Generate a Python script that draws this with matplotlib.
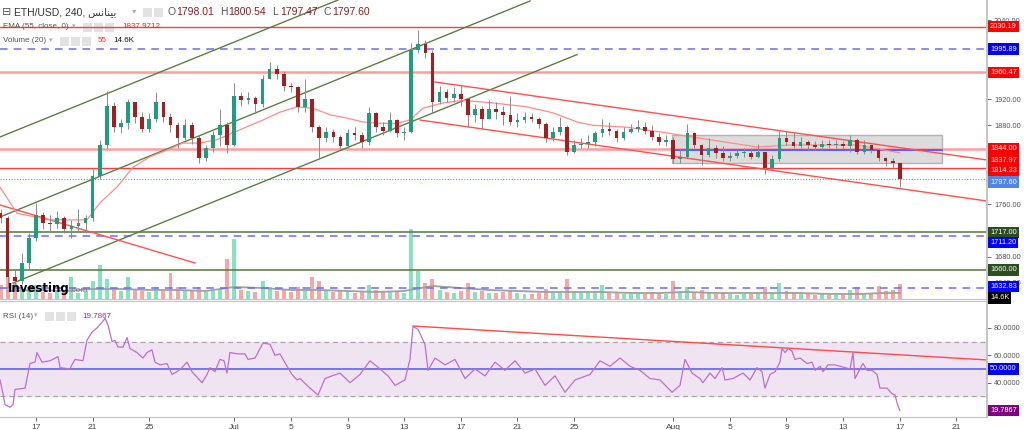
import numpy as np
import matplotlib.pyplot as plt
from matplotlib.patches import Rectangle
from matplotlib.transforms import offset_copy

plt.rcParams['font.family'] = ['Liberation Sans', 'DejaVu Sans']

# x axis: days since 1 Jun 2023, one candle every 12 hours from 14 Jun 12:00
first_day = 13.5
first_open = 1746.0
closes = [1739, 1649, 1643, 1670, 1709, 1744, 1732, 1729, 1739, 1722, 1726, 1732, 1739, 1803,
          1850, 1910, 1878, 1883, 1915, 1893, 1875, 1890, 1915, 1892, 1880, 1860, 1880, 1860, 1830, 1845,
          1865, 1880, 1850, 1925,
          1918, 1922, 1912, 1950, 1965, 1958, 1940, 1938, 1908, 1920, 1878, 1860, 1870, 1862, 1848, 1868,
          1865, 1855, 1898, 1878, 1872, 1888, 1868, 1870,
          1995, 2003, 1990, 1915, 1930, 1922, 1928, 1920, 1895, 1905, 1890, 1905, 1900, 1895, 1885, 1888,
          1892, 1890, 1882, 1860, 1870, 1878, 1840, 1850, 1852, 1855, 1868, 1875, 1872, 1860, 1870, 1875,
          1878, 1872, 1862, 1855, 1858, 1828, 1832, 1868, 1850, 1835, 1845, 1838, 1830, 1833, 1838, 1838,
          1832, 1840, 1815, 1828, 1860, 1855, 1848, 1855, 1850, 1847, 1852, 1850, 1852, 1848, 1858, 1840,
          1850, 1842, 1830, 1825, 1822, 1797.6]
highs = [1752, 1742, 1660, 1685, 1716, 1762, 1748, 1744, 1749, 1742, 1736, 1752, 1744, 1813,
         1858, 1932, 1915, 1890, 1920, 1915, 1900, 1898, 1930, 1915, 1898, 1885, 1890, 1885, 1865, 1850,
         1872, 1905, 1885, 1945,
         1930, 1930, 1925, 1956, 1976, 1972, 1962, 1945, 1940, 1950, 1920, 1880, 1878, 1875, 1865, 1875,
         1878, 1870, 1908, 1900, 1885, 1900, 1890, 1878,
         2005, 2025, 2010, 1995, 1940, 1935, 1938, 1940, 1922, 1912, 1910, 1918, 1915, 1910, 1925, 1898,
         1900, 1898, 1892, 1885, 1878, 1892, 1880, 1858, 1860, 1865, 1872, 1890, 1885, 1875, 1878, 1882,
         1888, 1885, 1880, 1868, 1865, 1862, 1845, 1882, 1870, 1852, 1860, 1850, 1848, 1840, 1842, 1845,
         1845, 1852, 1840, 1835, 1872, 1872, 1870, 1862, 1858, 1856, 1858, 1857, 1858, 1856, 1865, 1860,
         1858, 1850, 1845, 1832, 1830, 1822]
lows = [1732, 1633, 1630, 1638, 1660, 1704, 1722, 1718, 1724, 1716, 1709, 1719, 1716, 1734,
        1798, 1845, 1870, 1868, 1875, 1883, 1870, 1870, 1885, 1885, 1870, 1845, 1858, 1852, 1822, 1825,
        1840, 1848, 1838, 1848,
        1910, 1912, 1898, 1908, 1950, 1950, 1932, 1930, 1900, 1900, 1870, 1828, 1855, 1855, 1843, 1845,
        1858, 1845, 1850, 1870, 1865, 1870, 1862, 1858,
        1868, 1990, 1982, 1898, 1912, 1915, 1915, 1910, 1878, 1885, 1875, 1890, 1890, 1880, 1880, 1878,
        1884, 1885, 1876, 1855, 1856, 1865, 1835, 1838, 1845, 1845, 1848, 1862, 1865, 1855, 1858, 1868,
        1870, 1866, 1858, 1850, 1848, 1822, 1822, 1830, 1845, 1820, 1832, 1830, 1826, 1826, 1830, 1832,
        1828, 1830, 1806, 1812, 1825, 1850, 1845, 1846, 1843, 1842, 1843, 1845, 1846, 1844, 1840, 1836,
        1837, 1838, 1826, 1818, 1815, 1786]
volumes = [14, 22, 16, 10, 12, 14, 7, 6, 8, 7, 22, 6, 8, 18,
           34, 20, 10, 8, 22, 9, 8, 7, 12, 8, 26, 12, 9, 8, 12, 7, 8, 10, 40, 60,
           9, 8, 7, 18, 12, 8, 9, 7, 12, 10, 22, 18, 8, 7, 9, 8, 6, 7, 14, 9, 7, 8, 7, 6,
           70, 28, 16, 20, 9, 7, 6, 8, 16, 7, 8, 6, 6, 7, 9, 6, 5, 5, 6, 10, 6, 7, 20, 8, 6, 6,
           7, 14, 6, 7, 5, 5, 6, 5, 7, 6, 5, 18, 8, 12, 7, 9, 7, 5, 6, 5, 4, 5, 5, 6, 12, 7,
           16, 8, 7, 5, 5, 4, 5, 4, 4, 5, 9, 12, 6, 5, 13, 8, 9, 14.6]

ema_days = [13.46, 14.66, 16.99, 19.60, 20.52, 21.72, 22.85, 24.05, 25.25, 26.38, 27.58, 28.78,
            30.06, 32.03, 33.23, 34.43, 35.56, 36.76, 37.97, 39.10, 40.30, 41.50, 42.41, 43.33,
            44.74, 46.16, 48.28, 50.68, 52.51, 54.21, 55.34, 57.74, 60.07, 62.40, 64.52, 66.92,
            69.25, 71.58, 73.98, 77.0]
ema_vals = [1786, 1746, 1736, 1736, 1762, 1786, 1816, 1832, 1842, 1853, 1853, 1858,
            1870, 1888, 1900, 1908, 1906, 1896, 1891, 1885, 1883, 1883, 1888, 1906,
            1914, 1918, 1914, 1908, 1899, 1885, 1880, 1877, 1870, 1862, 1855, 1847,
            1850, 1850, 1850, 1837.97]

volma_days = [14, 16, 18, 20, 22, 24, 26, 28, 30, 32, 34, 36, 38, 40, 42, 44, 46, 48, 50, 52,
              54, 56, 58, 60, 62, 64, 66, 68, 70, 72, 74, 76, 77]
volma_vals = [8, 9, 8, 10, 10, 9, 9, 8, 12, 11, 9, 9, 8, 7, 8, 13, 11, 9, 8, 7,
              7, 7, 6, 6, 7, 6, 6, 6, 6, 5, 5, 6, 6]

rsi_days = [13.46, 13.67, 13.81, 14.17, 14.38, 14.52, 15.23, 15.58, 15.93, 16.07, 16.43, 16.99,
            17.56, 17.70, 18.40, 18.54, 18.76, 19.32, 19.60, 19.96, 20.31, 20.66, 20.88, 21.09,
            21.37, 21.58, 21.79, 22.15, 22.43, 22.64, 23.13, 23.56, 23.84, 24.19, 24.41, 24.76,
            25.25, 25.61, 25.96, 26.31, 26.67, 27.02, 27.37, 27.73, 28.08, 28.29, 28.64, 28.99,
            29.28, 29.49, 29.70, 30.27, 30.76, 30.97, 31.47, 32.03, 32.53, 32.88, 33.23, 33.73,
            34.08, 34.43, 34.65, 35.35, 35.92, 36.41, 36.91, 37.47, 38.18, 38.88, 39.59, 40.30,
            40.86, 41.36, 42.06, 42.41, 42.63, 42.98, 43.47, 43.69, 44.18, 44.89, 45.59, 46.30,
            47.00, 47.71, 48.42, 49.12, 49.83, 50.54, 51.24, 51.95, 52.65, 53.36, 54.07, 55.13,
            55.83, 56.54, 57.24, 57.95, 58.66, 59.36, 60.07, 60.92, 61.48, 61.83, 62.33, 62.89,
            63.10, 63.60, 63.95, 64.45, 64.66, 65.22, 65.93, 66.43, 66.92, 67.27, 67.48, 67.84,
            68.19, 68.54, 68.68, 68.90, 69.11, 69.39, 69.60, 69.96, 70.45, 70.80, 71.02, 71.37,
            71.58, 71.93, 72.43, 72.78, 73.13, 73.49, 73.70, 73.84, 74.19, 74.40, 74.69, 75.04,
            75.39, 75.60, 76.10, 76.45, 76.67, 76.81, 77.0]
rsi_vals = [42, 32, 24, 22, 24, 35, 36, 54, 55, 62, 55, 56,
            59, 51, 50, 53, 57, 56, 71, 77, 80, 84, 87, 82,
            70, 71, 66, 66, 73, 65, 62, 58, 62, 64, 55, 53,
            54, 46, 48, 51, 55, 48, 44, 40, 46, 51, 48, 57,
            56, 47, 62, 61, 61, 57, 58, 69, 68, 60, 61, 52,
            46, 42, 43, 36, 31, 43, 45, 47, 40, 46, 56, 50,
            45, 38, 42, 57, 81, 79, 68, 49, 58, 53, 57, 43,
            50, 45, 55, 49, 56, 47, 50, 38, 45, 33, 42, 46,
            56, 52, 58, 52, 49, 43, 42, 33, 38, 57, 47, 43,
            40, 47, 43, 51, 42, 43, 47, 42, 51, 48, 36, 46,
            48, 55, 65, 62, 65, 63, 57, 58, 54, 55, 49, 52,
            48, 53, 53, 52, 51, 50, 62, 43, 50, 54, 49, 49,
            46, 36, 36, 32, 31, 25, 19.7867]

levels = [2030.19, 1995.89, 1960.47, 1844.00, 1814.33, 1797.60, 1717.00, 1711.20, 1660.00, 1632.83]
level_kinds = ['red', 'blue', 'pink', 'pink', 'red', 'last', 'green', 'blue', 'green', 'blue']
level_text = ['2030.19', '1995.89', '1960.47', '1844.00', '1814.33', '1797.60', '1717.00',
              '1711.20', '1660.00', '1632.83']

green_lines = [[(13.46, 1862.2), (37.33, 2070.7)],
               [(13.46, 1740.4), (50.89, 2069.2)],
               [(14.38, 1639.9), (54.21, 1987.6)]]
red_lines = [[(13.46, 1758.7), (27.23, 1670.4)],
             [(44.18, 1945.9), (83.16, 1827.2)],
             [(43.12, 1888.0), (83.16, 1764.7)]]
box_days = [60.92, 79.99]
box_prices = [1822.6, 1865.2]
box_mid = 1842.4
rsi_trend = [(42.63, 81.4), (83.16, 56.6)]

tick_days = [16, 20, 24, 30, 34, 38, 42, 46, 50, 54, 61, 65, 69, 73, 77, 81]
tick_labels = ['17', '21', '25', 'Jul', '5', '9', '13', '17', '21', '25', 'Aug', '5', '9', '13', '17', '21']

# ---------------------------------------------------------------------------
W, H = 1024, 430
fig = plt.figure(figsize=(W / 100, H / 100), dpi=100, facecolor='white')

def fx(x):
    return x / W

def fy(y):
    return 1 - y / H

ax = fig.add_axes([0, fy(299), fx(987), 299 / H])
ax_rsi = fig.add_axes([0, fy(417), fx(987), 116 / H], sharex=ax)
ax_vol = ax.twinx()
ax_vol.set_zorder(1)
ax.set_zorder(2)
ax.patch.set_visible(False)

x0, x1 = 13.46, 83.16
ax.set_xlim(x0, x1)
ax.set_ylim(1615.6, 2070.7)
ax_rsi.set_ylim(14.9, 99.7)
ax_vol.set_ylim(0, 299)
ax_vol.axis('off')

days = first_day + 0.5 * np.arange(len(closes))
c = np.array(closes, float)
o = np.r_[first_open, c[:-1]]
up = c >= o

# volume overlay
vcol = np.where(up, '#86e3bd', '#f7a6a6')
ax_vol.bar(days, volumes, width=0.28, color=vcol, linewidth=0)
ax_vol.plot(volma_days, volma_vals, color='#a0a0a0', lw=1.3)

# horizontal levels
styles = {'red': dict(color='#ff3b3b', lw=1.0, ls='-'),
          'pink': dict(color='#ff9d9d', lw=1.8, ls='-'),
          'blue': dict(color='#6b6bff', lw=1.1, ls=(0, (5, 4))),
          'green': dict(color='#56733f', lw=1.1, ls='-'),
          'last': dict(color='#6f8fe6', lw=0.8, ls=(0, (1, 1.5)))}
for lv, kind in zip(levels, level_kinds):
    ax.axhline(lv, zorder=1.5, **styles[kind])

for (a, b) in green_lines:
    ax.plot([a[0], b[0]], [a[1], b[1]], color='#5d7d47', lw=1.0, zorder=2)
for (a, b) in red_lines:
    ax.plot([a[0], b[0]], [a[1], b[1]], color='#ff5050', lw=1.0, zorder=2)

ax.add_patch(Rectangle((box_days[0], box_prices[0]), box_days[1] - box_days[0],
                       box_prices[1] - box_prices[0], fc='#d6d6d6', ec='#a9a9a9',
                       lw=1, alpha=0.85, zorder=1))
ax.plot(box_days, [box_mid, box_mid], color='#5c5cff', lw=1.4, zorder=1.6)

ax.plot(ema_days, ema_vals, color='#ff8c8c', lw=0.9, zorder=2.5)

# candles
ax.vlines(days, lows, highs, color='#8a8a8a', lw=0.7, zorder=3)
body = np.maximum(np.abs(c - o), 1.2)
ax.bar(days[up], body[up], bottom=o[up], width=0.26, color='#1f9e7c', lw=0, zorder=4)
ax.bar(days[~up], body[~up], bottom=c[~up], width=0.26, color='#a51d1d', lw=0, zorder=4)

# axes cosmetics
for a_ in (ax, ax_rsi):
    for s in ('left', 'top'):
        a_.spines[s].set_visible(False)
    a_.spines['right'].set_color('#c4c4c4')
    a_.spines['right'].set_linewidth(1.4)
    a_.spines['bottom'].set_color('#c4c4c4')
    a_.yaxis.tick_right()
    a_.tick_params(axis='y', labelsize=5.3, colors='#555555', length=3, width=0.6, pad=2)
ax_rsi.spines['top'].set_visible(True)
ax_rsi.spines['top'].set_color('#c4c4c4')

ax.set_yticks([1640, 1680, 1760, 1880, 1920, 2040])
ax.yaxis.set_major_formatter(plt.FormatStrFormatter('%.2f'))
ax.tick_params(axis='x', bottom=False, labelbottom=False)

# right-hand price tags
def tag(axis, y, text, fc, tc='white', dy=0):
    tr = offset_copy(axis.get_yaxis_transform(), fig=fig, x=3, y=-dy, units='dots')
    axis.text(1.0, y, text, transform=tr, ha='left', va='center', fontsize=5.3, color=tc,
              bbox=dict(boxstyle='square,pad=0.3', fc=fc, ec='none'), clip_on=False, zorder=20)

tag_colors = {'red': '#ff0000', 'pink': '#ff0000', 'blue': '#0000ff', 'green': '#2b4d1f',
              'last': '#4f86ea'}
nudges = {'1814.33': 2.3, '1797.60': 2.6, '1711.20': 6.5, '1632.83': -1}
for lv, kind, t in zip(levels, level_kinds, level_text):
    tag(ax, lv, t, tag_colors[kind], dy=nudges.get(t, 0))
tag(ax, ema_vals[-1], '1837.97', '#ff0000', dy=7.7)
tr_ax = offset_copy(ax.transAxes, fig=fig, x=3, units='dots')
ax.text(1.0, 0.004, '14.6K', transform=tr_ax, ha='left', va='center', fontsize=5.3, color='white',
        bbox=dict(boxstyle='square,pad=0.3', fc='black', ec='none'), clip_on=False, zorder=20)

# RSI panel
ax_rsi.axhspan(30, 70, color='#f1e4f2', zorder=0)
ax_rsi.axhline(70, color='#a8a8a8', lw=0.9, ls=(0, (4, 3)))
ax_rsi.axhline(30, color='#a8a8a8', lw=0.9, ls=(0, (4, 3)))
ax_rsi.axhline(50, color='#6060ff', lw=1.2)
ax_rsi.plot([p[0] for p in rsi_trend], [p[1] for p in rsi_trend], color='#ff4a4a', lw=1.0)
ax_rsi.plot(rsi_days, rsi_vals, color='#bb6fcc', lw=0.9)
ax_rsi.set_yticks([40, 60, 80])
ax_rsi.yaxis.set_major_formatter(plt.FormatStrFormatter('%.4f'))
ax_rsi.set_xticks(tick_days, tick_labels)
ax_rsi.tick_params(axis='x', labelsize=6, colors='#444444', length=3, width=0.6, pad=2)
tag(ax_rsi, 50, '50.0000', '#0000ff')
tag(ax_rsi, rsi_vals[-1], '19.7867', '#800080')

# legend rows
def icons(x, y, n):
    for i in range(n):
        fig.add_artist(Rectangle((fx(x + 11 * i), fy(y + 5)), fx(9), 9 / H,
                                 transform=fig.transFigure, fc='#e2e2e2', ec='none'))

arabic = '\ufeb2\ufee7\ufe8e\ufee8\ufef4\ufe91'
fig.text(fx(2), fy(12), '\u229f', fontsize=8, color='#555555', va='center')
fig.text(fx(14), fy(12), 'ETH/USD, 240, ' + arabic, fontsize=7.5, color='#333333', va='center')
fig.text(fx(132), fy(12), '\u25be', fontsize=6, color='#aaaaaa', va='center')
icons(143, 12, 2)
ohlc = [('O', '1798.01'), ('H', '1800.54'), ('L', '1797.47'), ('C', '1797.60')]
for i, (k, v) in enumerate(ohlc):
    xx = 168 + 52 * i
    fig.text(fx(xx), fy(12), k, fontsize=7.5, color='#555555', va='center')
    fig.text(fx(xx + 8), fy(12), v, fontsize=7.5, color='#8b1c1c', va='center')

fig.text(fx(3), fy(27), 'EMA (55, close, 0)', fontsize=5.8, color='#555555', va='center')
fig.text(fx(72), fy(27), '\u25be', fontsize=5, color='#aaaaaa', va='center')
icons(83, 27, 3)
fig.text(fx(122), fy(27), '1837.9712', fontsize=5.8, color='#ff2020', va='center')

fig.text(fx(3), fy(41), 'Volume (20)', fontsize=5.8, color='#555555', va='center')
fig.text(fx(49), fy(41), '\u25be', fontsize=5, color='#aaaaaa', va='center')
icons(60, 41, 3)
fig.text(fx(98), fy(41), '55', fontsize=5.8, color='#ff3030', va='center')
fig.text(fx(113), fy(41), '14.6K', fontsize=5.8, color='#111111', va='center')

fig.text(fx(3), fy(316), 'RSI (14)', fontsize=5.8, color='#555555', va='center')
fig.text(fx(34), fy(316), '\u25be', fontsize=5, color='#aaaaaa', va='center')
icons(45, 316, 3)
fig.text(fx(82), fy(316), '19.7867', fontsize=5.8, color='#9c27b0', va='center')

fig.text(fx(8), fy(292), 'Investing', fontsize=8.5, fontweight='bold', color='black',
         family='DejaVu Sans', va='baseline', zorder=30)
fig.text(fx(69), fy(292), '.com', fontsize=6, color='#777777', va='baseline', zorder=30)

fig.savefig('out.png', dpi=100, facecolor='white')
